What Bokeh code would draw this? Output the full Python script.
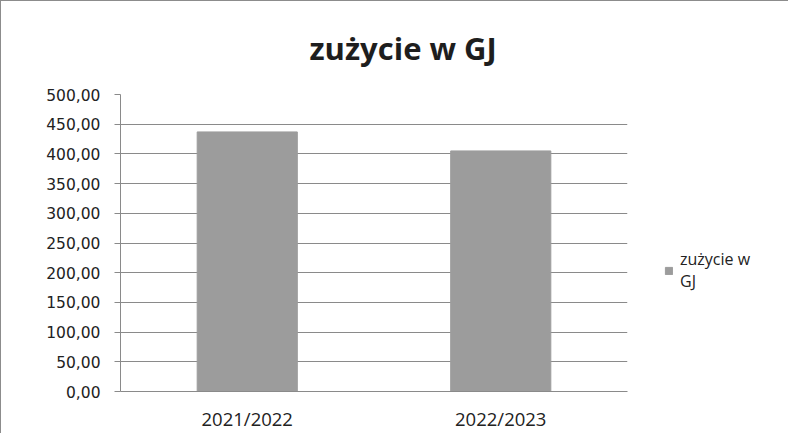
from bokeh.plotting import figure
from bokeh.models import FactorRange, FixedTicker, Legend, LegendItem, ColumnDataSource, Title
from bokeh.embed import file_html
from bokeh.resources import INLINE

# data
categories = ["2021/2022", "2022/2023"]
values = [437.0, 405.0]
series_name = "zużycie w GJ"
legend_label = "zużycie w\nGJ"
y_ticks = [0, 50, 100, 150, 200, 250, 300, 350, 400, 450, 500]

src = ColumnDataSource(data=dict(cat=categories, val=values))

p = figure(
    x_range=FactorRange(*categories, range_padding=0),
    y_range=(0, 500),
    frame_width=507, frame_height=297,
    output_backend="svg", toolbar_location=None,
    min_border_left=119, min_border_right=10,
    min_border_top=93, min_border_bottom=40,
)
p.styles = {"border-top": "1px solid #8c8c8c", "border-left": "1px solid #8c8c8c"}

r = p.vbar(x="cat", top="val", width=0.395, source=src,
           fill_color="#9c9c9c", line_color="#9c9c9c")

p.title = Title(text=series_name, align="left", offset=189,
                vertical_align="top",
                text_font="Open Sans", text_font_size="31px",
                text_font_style="bold", text_color="#1e1e1e", standoff=48)

p.background_fill_color = "white"
p.border_fill_color = "white"
p.outline_line_color = None

# grid
p.xgrid.grid_line_color = None
p.ygrid.grid_line_color = "#8a8a8a"
p.ygrid.grid_line_width = 1
p.ygrid.level = "underlay"

# y axis
p.yaxis.ticker = FixedTicker(ticks=y_ticks)
p.yaxis.major_label_overrides = {t: f"{t:.2f}".replace(".", ",") for t in y_ticks}
p.yaxis.major_label_text_font = "DejaVu Sans"
p.yaxis.major_label_text_font_size = "15.5px"
p.yaxis.major_label_text_color = "#222222"
p.yaxis.axis_line_color = "#8a8a8a"
p.yaxis.major_tick_line_color = "#8a8a8a"
p.yaxis.major_tick_out = 6
p.yaxis.major_tick_in = 0
p.yaxis.minor_tick_line_color = None
p.yaxis.major_label_standoff = 14

# x axis
p.xaxis.axis_line_color = "#8a8a8a"
p.xaxis.major_tick_line_color = None
p.xaxis.major_label_text_font = "Open Sans"
p.xaxis.major_label_text_font_size = "18.5px"
p.xaxis.major_label_text_color = "#222222"
p.xaxis.major_label_standoff = 8

legend = Legend(items=[LegendItem(label=legend_label, renderers=[r])],
                location=(37, 99), orientation="vertical",
                border_line_color=None, background_fill_alpha=0,
                padding=0, margin=0, glyph_width=9, glyph_height=9,
                label_standoff=7, label_text_font="Open Sans",
                label_text_font_size="16px", label_text_color="#222222",
                label_text_line_height=1.3)
p.add_layout(legend, "right")

open("out.html", "w").write(file_html(p, INLINE))
